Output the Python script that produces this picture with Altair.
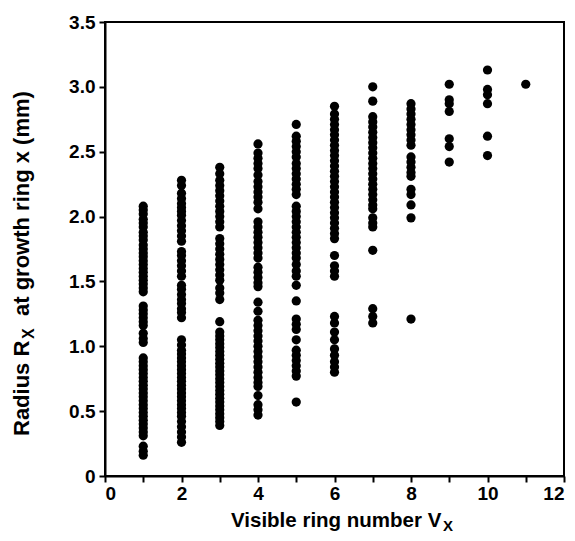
import altair as alt
import pandas as pd

# Radius R_X (mm) observed at each visible ring number V_X
col1 = [2.08, 2.05, 2.02, 1.98, 1.95, 1.92, 1.88, 1.85, 1.82, 1.78, 1.75, 1.72, 1.69, 1.66,
        1.63, 1.60, 1.57, 1.54, 1.51, 1.48, 1.45, 1.42,
        1.31, 1.28, 1.25, 1.22, 1.19, 1.16, 1.10, 1.06, 1.03,
        0.91, 0.88, 0.85, 0.82, 0.79, 0.76, 0.73, 0.70, 0.67, 0.64, 0.61, 0.58, 0.55, 0.52,
        0.49, 0.46, 0.43, 0.40, 0.37, 0.34, 0.31,
        0.23, 0.19, 0.16]
col2 = [2.28, 2.24, 2.18, 2.14, 2.10, 2.07, 2.04, 2.01, 1.97, 1.93, 1.89, 1.85, 1.81,
        1.73, 1.70, 1.66, 1.62, 1.58, 1.54,
        1.47, 1.44, 1.40, 1.36, 1.33, 1.29, 1.26, 1.22,
        1.05, 1.01,
        0.97, 0.94, 0.91, 0.88, 0.85, 0.82, 0.79, 0.76, 0.73, 0.70, 0.67, 0.64, 0.61, 0.58,
        0.55, 0.52, 0.49, 0.46, 0.42, 0.38, 0.34, 0.30, 0.26]
col3 = [2.38, 2.33, 2.28, 2.24, 2.20, 2.16, 2.12, 2.08, 2.04, 2.00, 1.96, 1.92,
        1.83, 1.79, 1.75, 1.71, 1.67, 1.63, 1.59, 1.55, 1.51,
        1.45, 1.41, 1.36,
        1.19,
        1.11, 1.08, 1.05, 1.02, 0.99, 0.96, 0.93, 0.90, 0.87, 0.84, 0.81, 0.78, 0.75, 0.72,
        0.69, 0.66, 0.63, 0.60, 0.57, 0.54, 0.51, 0.48, 0.45, 0.42, 0.39]
col4 = [2.56, 2.49, 2.45, 2.41, 2.37, 2.32, 2.27, 2.23, 2.19, 2.15, 2.11, 2.06,
        1.96, 1.92, 1.88, 1.84, 1.80, 1.76, 1.72, 1.68, 1.61, 1.57, 1.53, 1.49, 1.46,
        1.34, 1.27, 1.20, 1.16, 1.12, 1.08, 1.04, 1.00, 0.96, 0.92, 0.88, 0.84, 0.80,
        0.76, 0.72, 0.69, 0.62, 0.55, 0.51, 0.47]
col5 = [2.71, 2.62, 2.58, 2.54, 2.50, 2.46, 2.41, 2.37, 2.33, 2.29, 2.25, 2.21, 2.17,
        2.08, 2.04, 2.00, 1.96, 1.92, 1.88, 1.84, 1.80, 1.76, 1.72, 1.68, 1.63, 1.58, 1.54,
        1.47, 1.35, 1.21, 1.17, 1.13, 1.05, 0.97, 0.93, 0.89, 0.85, 0.81, 0.77, 0.57]
col6 = [2.85, 2.79, 2.75, 2.71, 2.67, 2.63, 2.59, 2.55, 2.51, 2.47, 2.43, 2.39, 2.35,
        2.31, 2.27, 2.23, 2.19, 2.15, 2.11, 2.07, 2.03, 1.99, 1.95, 1.91, 1.87, 1.83,
        1.70, 1.62, 1.58, 1.54,
        1.23, 1.18, 1.11, 1.05, 0.98, 0.93, 0.88, 0.84, 0.80]
col7 = [3.00, 2.89, 2.77, 2.73, 2.69, 2.65, 2.61, 2.57, 2.53, 2.49, 2.45, 2.41, 2.37,
        2.33, 2.29, 2.25, 2.21, 2.17, 2.13, 2.09, 2.06, 1.99, 1.95, 1.92, 1.74,
        1.29, 1.23, 1.18]
col8 = [2.87, 2.83, 2.79, 2.75, 2.71, 2.67, 2.63, 2.59, 2.55, 2.46, 2.42, 2.38, 2.34,
        2.31, 2.21, 2.17, 2.09, 1.99, 1.21]
col9 = [3.02, 2.90, 2.87, 2.81, 2.60, 2.54, 2.42]
col10 = [3.13, 2.98, 2.94, 2.87, 2.62, 2.47]
col11 = [3.02]

columns = [col1, col2, col3, col4, col5, col6, col7, col8, col9, col10, col11]
ring_numbers = list(range(1, 12))

x_ticks = list(range(0, 13))
y_ticks = [0, 0.5, 1.0, 1.5, 2.0, 2.5, 3.0, 3.5]

rows = []
for v, vals in zip(ring_numbers, columns):
    for r in vals:
        rows.append({"v": v, "r": r})
df = pd.DataFrame(rows)

FONT = "Liberation Sans"
W, H = 459, 454

points = alt.Chart(df).mark_circle(size=85, color="black", opacity=1).encode(
    x=alt.X("v:Q", scale=alt.Scale(domain=[0, 12], nice=False, zero=False),
            axis=alt.Axis(values=x_ticks, title=None, grid=False,
                          labelExpr="datum.value % 2 == 0 ? datum.label : ''",
                          labelOverlap=False, labelFontSize=19, labelFont=FONT,
                          labelFontWeight="bold", labelColor="black", labelPadding=2,
                          tickSize=6, tickWidth=2, tickColor="black",
                          domainColor="black", domainWidth=2)),
    y=alt.Y("r:Q", scale=alt.Scale(domain=[0, 3.5], nice=False),
            axis=alt.Axis(values=y_ticks, title=None, grid=False,
                          labelExpr="datum.value == 0 ? '0' : format(datum.value, '.1f')",
                          labelOverlap=False, labelFontSize=19, labelFont=FONT,
                          labelFontWeight="bold", labelColor="black", labelPadding=4,
                          tickSize=6, tickWidth=2, tickColor="black",
                          domainColor="black", domainWidth=2)),
)

def txt(text, x, y, size, angle=0, align="left"):
    d = pd.DataFrame({"t": [text]})
    return alt.Chart(d).mark_text(font=FONT, fontSize=size, fontWeight="bold",
                                  color="black", align=align, baseline="alphabetic",
                                  angle=angle).encode(
        x=alt.value(x), y=alt.value(y), text="t:N")

# x-axis title with subscript
xt_main = txt("Visible ring number V", 126, 505, 20.5)
xt_sub = txt("X", 338, 509, 15)
# y-axis title with subscript (rotated)
yt_main1 = txt("Radius R", -76, 414, 22, angle=270)
yt_sub = txt("X", -71, 317, 16, angle=270)
yt_main2 = txt("at growth ring x (mm)", -76, 294, 22, angle=270)

chart = alt.layer(points, xt_main, xt_sub, yt_main1, yt_sub, yt_main2).properties(
    width=W, height=H,
    autosize=alt.AutoSizeParams(type="none"),
    padding={"left": 97, "top": 14, "right": 3, "bottom": 57},
).configure_view(stroke="black", strokeWidth=2)

chart.save("out.html", embed_options={"renderer": "svg", "actions": False})
